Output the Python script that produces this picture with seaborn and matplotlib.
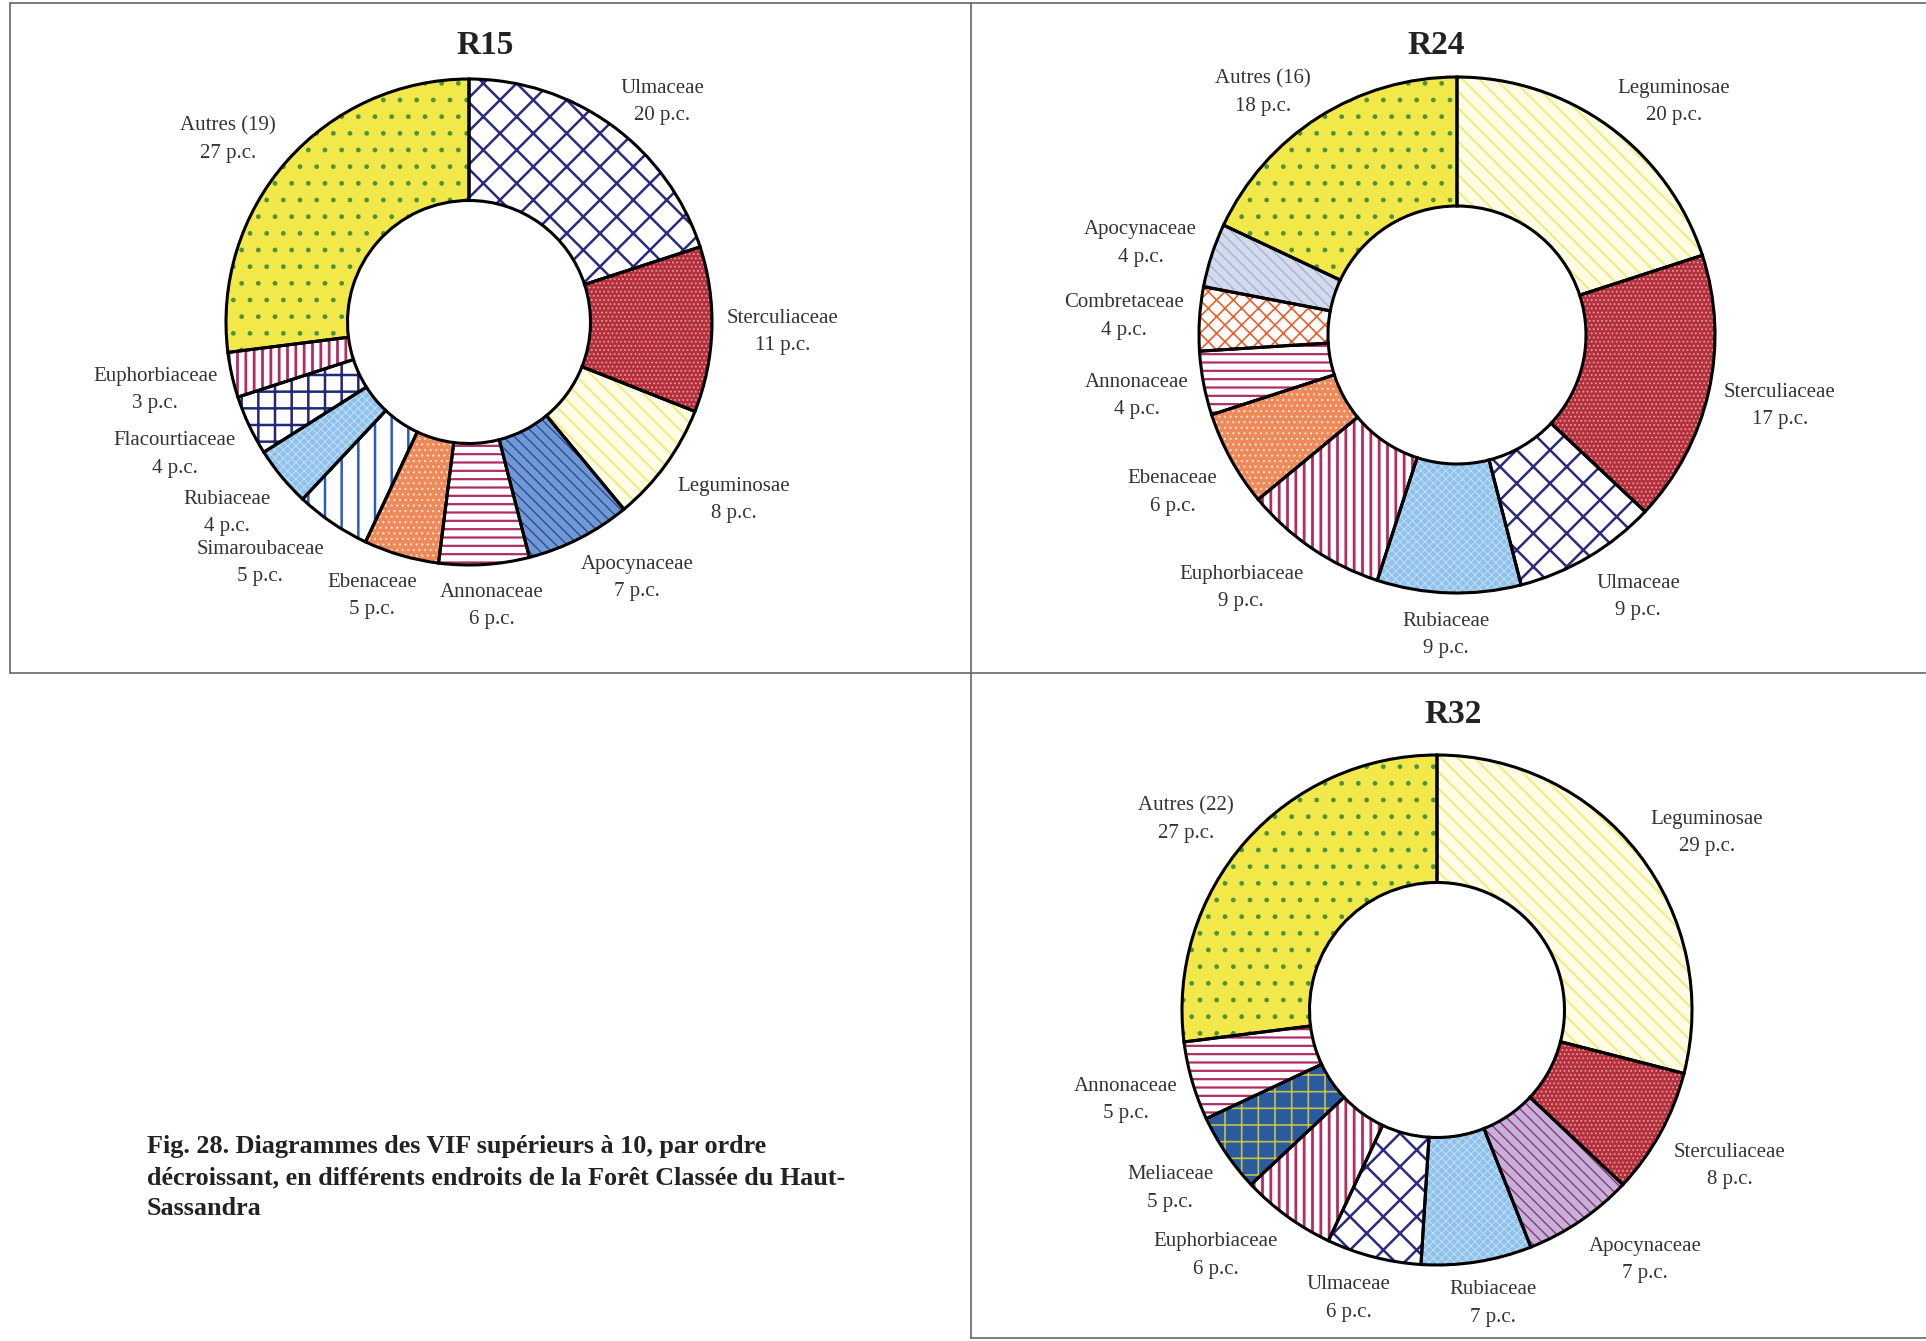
import matplotlib
matplotlib.use("Agg")
import matplotlib.pyplot as plt
import seaborn as sns
from matplotlib.lines import Line2D
import numpy as np

sns.set_style("white")
plt.rcParams['font.family'] = ['Liberation Serif', 'DejaVu Serif']
plt.rcParams['hatch.linewidth'] = 1.2

# ---- data (clockwise from 12 o'clock) ----
r15_names = ["Ulmaceae", "Sterculiaceae", "Leguminosae", "Apocynaceae", "Annonaceae",
             "Ebenaceae", "Simaroubaceae", "Rubiaceae", "Flacourtiaceae", "Euphorbiaceae",
             "Autres (19)"]
r15_pc = [20, 11, 8, 7, 6, 5, 5, 4, 4, 3, 27]

r24_names = ["Leguminosae", "Sterculiaceae", "Ulmaceae", "Rubiaceae", "Euphorbiaceae",
             "Ebenaceae", "Annonaceae", "Combretaceae", "Apocynaceae", "Autres (16)"]
r24_pc = [20, 17, 9, 9, 9, 6, 4, 4, 4, 18]

r32_names = ["Leguminosae", "Sterculiaceae", "Apocynaceae", "Rubiaceae", "Ulmaceae",
             "Euphorbiaceae", "Meliaceae", "Annonaceae", "Autres (22)"]
r32_pc = [29, 8, 7, 7, 6, 6, 5, 5, 27]

caption = ("Fig. 28. Diagrammes des VIF supérieurs à 10, par ordre\n"
           "décroissant, en différents endroits de la Forêt Classée du Haut-\n"
           "Sassandra")

# ---- styles: family -> (face, hatch, hatch colour, hatch lw) ----
STYLE = {
    "Autres": ("#f3e84a", ".", "#4a9440", 1.0),
    "Ulmaceae": ("white", "x", "#2a2a80", 1.8),
    "Sterculiaceae": ("#b3303c", "....", "#e49aa0", 0.8),
    "Leguminosae": ("#fffce6", "\\\\", "#f0ec8c", 1.6),
    "Annonaceae": ("white", "--", "#b02c64", 1.6),
    "Ebenaceae": ("#ee8a5a", "...", "#fde2d2", 0.8),
    "Simaroubaceae": ("white", "|", "#2a5cc0", 1.8),
    "Rubiaceae": ("#8ec2ec", "xxxx", "#c2def6", 0.7),
    "Flacourtiaceae": ("white", "+", "#202878", 1.8),
    "Euphorbiaceae": ("white", "||", "#b82a62", 2.0),
    "Combretaceae": ("white", "xx", "#e8602c", 1.2),
    "Meliaceae": ("#2a5aa0", "+", "#c8c040", 1.2),
}
APOCYN = {
    "R15": ("#7098d2", "\\\\\\", "#2c4c9c", 1.0),
    "R24": ("#d2daec", "\\\\\\", "#a4b4d6", 1.0),
    "R32": ("#c2b2dc", "\\\\\\", "#a03070", 1.0),
}

W, H = 1926, 1341
fig = plt.figure(figsize=(W / 100, H / 100), dpi=100)
renderer = fig.canvas.get_renderer()
L = 1.75


def spread(ax, texts, gap=4):
    # push overlapping labels downward, separately on each side
    for side in (-1, 1):
        grp = [t for t in texts if np.sign(t.get_position()[0]) == side]
        grp.sort(key=lambda t: -t.get_position()[1])
        placed = []
        for t in grp:
            bb = t.get_window_extent(renderer)
            shift = 0
            for p in placed:
                if bb.x1 > p.x0 and bb.x0 < p.x1 and bb.y1 - shift > p.y0 - gap:
                    shift = max(shift, bb.y1 - p.y0 + gap)
            if shift:
                x, y = t.get_position()
                px, py = ax.transData.transform((x, y))
                t.set_position(ax.transData.inverted().transform((px, py - shift)))
                bb = t.get_window_extent(renderer)
            placed.append(bb)


def donut(title, names, pcs, cx, cy, r, tx, ty):
    side = 2 * L * r
    ax = fig.add_axes([(cx - side / 2) / W, (H - cy - side / 2) / H, side / W, side / H])
    wedges, _ = ax.pie(pcs, startangle=90, counterclock=False, radius=1,
                       wedgeprops=dict(width=0.5, linewidth=0))
    for w, n in zip(wedges, names):
        key = n.split(" (")[0]
        face, hatch, hcol, hlw = APOCYN[title] if key == "Apocynaceae" else STYLE[key]
        w.set_facecolor(face)
        w.set_hatch(hatch)
        w.set_edgecolor(hcol)
        if hasattr(w, "set_hatch_linewidth"):
            w.set_hatch_linewidth(hlw)
    ax.pie(pcs, startangle=90, counterclock=False, radius=1,
           wedgeprops=dict(width=0.5, facecolor="none", edgecolor="black", linewidth=2.2))
    ax.set_xlim(-L, L)
    ax.set_ylim(-L, L)
    ax.set_aspect("equal")
    ax.axis("off")
    texts = []
    for w, n, p in zip(wedges, names, pcs):
        a = np.deg2rad((w.theta1 + w.theta2) / 2)
        c, s = np.cos(a), np.sin(a)
        t = ax.text(0, 0, f"{n}\n{p} p.c.", ha="center", va="center",
                    multialignment="center", fontsize=15, color="#333333",
                    linespacing=1.6)
        bb = t.get_window_extent(renderer)
        hw, hh = bb.width / 2 / r, bb.height / 2 / r
        # label box sits just outside the ring, on the side of its wedge
        x = 1.06 * c + hw * np.clip(c / 0.5, -1, 1)
        y = 1.06 * s + hh * np.clip(s / 0.5, -1, 1) * (0.5 if s > 0 else 1.15)
        t.set_position((x, y))
        texts.append(t)
    spread(ax, texts)
    fig.text(tx / W, 1 - ty / H, title, ha="center", va="center",
             fontsize=24, fontweight="bold", color="#222222")


donut("R15", r15_names, r15_pc, 469, 322, 243, 485, 46)
donut("R24", r24_names, r24_pc, 1457, 335, 258, 1436, 46)
donut("R32", r32_names, r32_pc, 1437, 1010, 255, 1453, 714)


def seg(x0, y0, x1, y1):
    fig.add_artist(Line2D([x0 / W, x1 / W], [1 - y0 / H, 1 - y1 / H],
                          color="#666666", linewidth=1.2, transform=fig.transFigure))


seg(10, 3, W, 3)
seg(10, 3, 10, 673)
seg(10, 673, W, 673)
seg(971, 3, 971, H - 3)
seg(971, H - 3, W, H - 3)

fig.text(147 / W, 1 - 1135 / H, caption, ha="left", va="top", fontsize=18.8,
         fontweight="bold", color="#222222", linespacing=1.45)

fig.savefig("out.png", dpi=100, facecolor="white")
